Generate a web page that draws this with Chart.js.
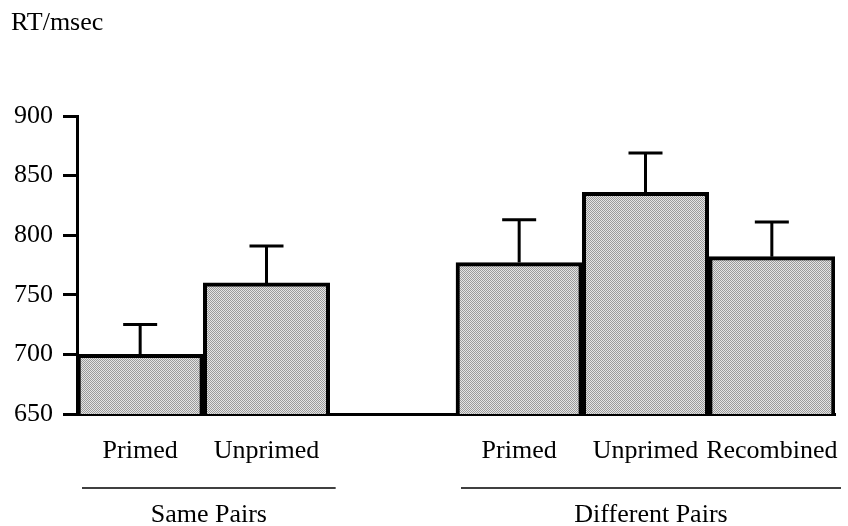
<!DOCTYPE html>
<html>
<head>
<meta charset="utf-8">
<script src="https://cdn.jsdelivr.net/npm/chart.js@4/dist/chart.umd.min.js"></script>
<style>
  html, body { margin: 0; padding: 0; background: #fff; }
  #wrap { position: relative; width: 848px; height: 526px; }
  #yTitle { position: absolute; left: 11px; top: 7px; font: 26px 'Liberation Serif', serif; color: #000; }
</style>
</head>
<body>
<div id="wrap">
  <div id="yTitle">RT/msec</div>
  <canvas id="rtChart" width="848" height="526"></canvas>
</div>
<script>
// condition labels (empty slot = gap between the two groups)
const conditions = ['Primed', 'Unprimed', '', 'Primed', 'Unprimed', 'Recombined'];
// mean reaction times (ms)
const meanRT = [700, 760, null, 777, 836, 782];
// error bar size above the mean (ms)
const errorRT = [25, 31, null, 36, 33, 29];
// groups: name + first / last category index
const groupNames = ['Same Pairs', 'Different Pairs'];
const groupStart = [0, 3];
const groupEnd = [1, 5];
const yTicks = [650, 700, 750, 800, 850, 900];

const FONT = "'Liberation Serif', serif";

// stippled grey fill like the printed figure
function stipple() {
  const c = document.createElement('canvas');
  c.width = 2; c.height = 2;
  const g = c.getContext('2d');
  g.fillStyle = '#e4e4e4';
  g.fillRect(0, 0, 2, 2);
  g.fillStyle = '#9a9a9a';
  g.fillRect(0, 0, 1, 1);
  g.fillRect(1, 1, 1, 1);
  return g.createPattern(c, 'repeat');
}

const errorBars = {
  id: 'errorBars',
  afterDatasetsDraw(chart) {
    const ctx = chart.ctx;
    const x = chart.scales.x, y = chart.scales.y;
    ctx.save();
    ctx.strokeStyle = '#000';
    ctx.lineWidth = 3;
    meanRT.forEach((v, i) => {
      if (v == null) return;
      const cx = x.getPixelForValue(i);
      const top = y.getPixelForValue(v + errorRT[i]);
      const base = y.getPixelForValue(v);
      ctx.beginPath();
      ctx.moveTo(cx, base);
      ctx.lineTo(cx, top);
      ctx.moveTo(cx - 17, top);
      ctx.lineTo(cx + 17, top);
      ctx.stroke();
    });
    ctx.restore();
  }
};

const groupLabels = {
  id: 'groupLabels',
  afterDraw(chart) {
    const ctx = chart.ctx;
    const x = chart.scales.x;
    const half = (x.getPixelForValue(1) - x.getPixelForValue(0)) / 2;
    ctx.save();
    ctx.strokeStyle = '#000';
    ctx.lineWidth = 1.5;
    ctx.fillStyle = '#000';
    ctx.font = '26px ' + FONT;
    ctx.textAlign = 'center';
    ctx.textBaseline = 'alphabetic';
    groupNames.forEach((name, k) => {
      const x0 = x.getPixelForValue(groupStart[k]) - half + 5;
      const x1 = x.getPixelForValue(groupEnd[k]) + half + 6;
      ctx.beginPath();
      ctx.moveTo(x0, 488);
      ctx.lineTo(x1, 488);
      ctx.stroke();
      ctx.fillText(name, (x0 + x1) / 2, 522);
    });
    ctx.restore();
  }
};

new Chart(document.getElementById('rtChart'), {
  type: 'bar',
  data: {
    labels: conditions,
    datasets: [{
      data: meanRT,
      backgroundColor: stipple(),
      borderColor: '#000',
      borderWidth: 4,
      borderSkipped: 'bottom',
      categoryPercentage: 1,
      barPercentage: 1
    }]
  },
  options: {
    responsive: false,
    animation: false,
    events: [],
    layout: { autoPadding: false, padding: { top: 116, right: 13, left: 0, bottom: 0 } },
    plugins: { legend: { display: false }, tooltip: { enabled: false } },
    scales: {
      x: {
        afterFit: s => { s.height = 112; s.paddingLeft = 0; s.paddingRight = 0; },
        grid: { display: false, drawTicks: false },
        border: { display: true, color: '#000', width: 3 },
        ticks: {
          color: '#000',
          font: { family: FONT, size: 26 },
          padding: 22,
          maxRotation: 0,
          minRotation: 0,
          autoSkip: false
        }
      },
      y: {
        min: 650,
        max: 900,
        afterFit: s => { s.width = 77; s.paddingTop = 0; s.paddingBottom = 0; },
        afterBuildTicks: s => { s.ticks = yTicks.map(v => ({ value: v })); },
        grid: { drawOnChartArea: false, drawTicks: true, tickLength: 14, tickWidth: 3, tickColor: '#000' },
        border: { display: true, color: '#000', width: 3 },
        ticks: {
          color: '#000',
          font: { family: FONT, size: 26 },
          padding: 10
        }
      }
    }
  },
  plugins: [errorBars, groupLabels]
});
</script>
</body>
</html>
